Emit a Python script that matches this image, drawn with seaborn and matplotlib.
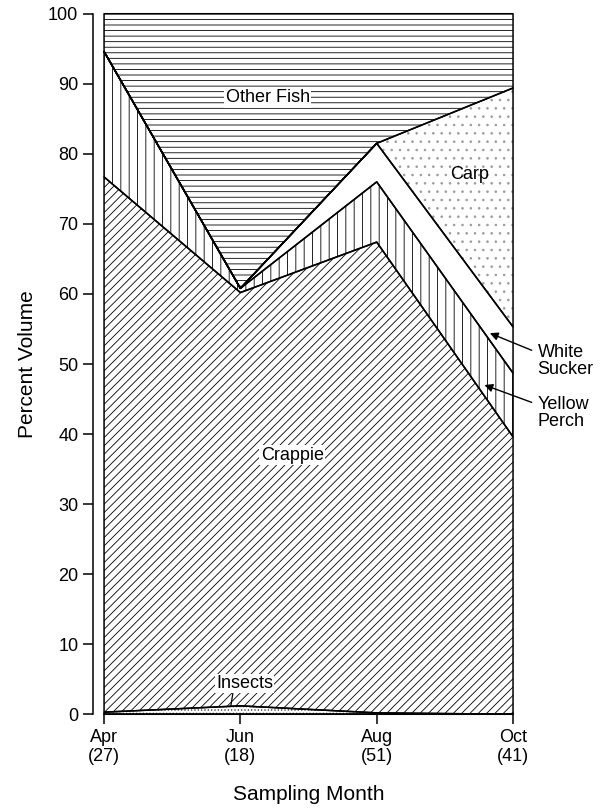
import numpy as np
import matplotlib.pyplot as plt
import seaborn as sns

# diet composition (% volume) by sampling month, sample size in brackets
months = ['Apr\n(27)', 'Jun\n(18)', 'Aug\n(51)', 'Oct\n(41)']
insects = [0.3, 1.2, 0.2, 0.0]
crappie = [76.4, 59.0, 67.2, 39.6]
yellow_perch = [17.9, 0.6, 8.6, 9.1]
white_sucker = [0.0, 0.0, 5.5, 6.6]
carp = [0.0, 0.0, 0.0, 34.1]
other_fish = [5.4, 39.2, 18.5, 10.6]

layers = [insects, crappie, yellow_perch, white_sucker, carp, other_fish]
hatches = ['.....', '////', '||', '', '..', '---']
hatch_colors = ['0.25', 'black', 'black', 'black', '0.6', 'black']

sns.set_theme(style='ticks')
plt.rcParams['font.family'] = ['Liberation Sans', 'DejaVu Sans']
plt.rcParams['hatch.linewidth'] = 0.6
for k in ['text.color', 'axes.labelcolor', 'xtick.color', 'ytick.color',
          'axes.edgecolor']:
    plt.rcParams[k] = 'black'

fig = plt.figure(figsize=(6.05, 8.08), dpi=100)
ax = fig.add_axes([0.172, 0.116, 0.676, 0.867])

x = np.arange(len(months))
tops = np.cumsum(np.array(layers), axis=0)
bottoms = np.vstack([np.zeros(len(months)), tops[:-1]])

# hatching first, outlines on top
for lo, hi, h, hc in zip(bottoms, tops, hatches, hatch_colors):
    ax.fill_between(x, lo, hi, facecolor='white', edgecolor=hc,
                    hatch=h, linewidth=0, clip_on=False)
for lo, hi in zip(bottoms, tops):
    ax.fill_between(x, lo, hi, facecolor='none', edgecolor='black',
                    linewidth=1.1, clip_on=False)

ax.set_xlim(0, 3)
ax.set_ylim(0, 100)
ax.set_xticks(x)
ax.set_xticklabels(months, fontsize=13, linespacing=1.0)
ax.set_yticks(np.arange(0, 101, 10))
ax.tick_params(axis='both', labelsize=13, length=7, width=1.1)
sns.despine(ax=ax, offset={'left': 8, 'bottom': 0})
ax.spines['left'].set_linewidth(1.1)
ax.spines['bottom'].set_linewidth(1.1)

ax.set_ylabel('Percent Volume', fontsize=15, labelpad=8)
ax.set_xlabel('Sampling Month', fontsize=15, labelpad=14)

box = dict(facecolor='white', edgecolor='none', pad=1)
ax.text(1.2, 88, 'Other Fish', fontsize=13, ha='center', va='center', bbox=box)
ax.text(2.68, 77, 'Carp', fontsize=13, ha='center', va='center')
ax.text(1.38, 37, 'Crappie', fontsize=13, ha='center', va='center', bbox=box)
ax.annotate('Insects', xy=(0.93, 1.2), xytext=(1.03, 4.4), fontsize=13,
            ha='center', va='center', bbox=box,
            arrowprops=dict(arrowstyle='-', color='black', lw=0.9,
                            shrinkA=0, shrinkB=0, relpos=(0.3, 0)))
arrow = dict(arrowstyle='-|>', color='black', lw=1.0, shrinkA=2, shrinkB=0,
             mutation_scale=12)
ax.annotate('White\nSucker', xy=(2.83, 54.4), xytext=(3.18, 50.4),
            fontsize=13, ha='left', va='center', linespacing=1.0,
            arrowprops=dict(arrow, relpos=(0, 0.75)), annotation_clip=False)
ax.annotate('Yellow\nPerch', xy=(2.79, 47.0), xytext=(3.18, 43.0),
            fontsize=13, ha='left', va='center', linespacing=1.0,
            arrowprops=dict(arrow, relpos=(0, 0.75)), annotation_clip=False)

fig.savefig('out.png', dpi=100)
